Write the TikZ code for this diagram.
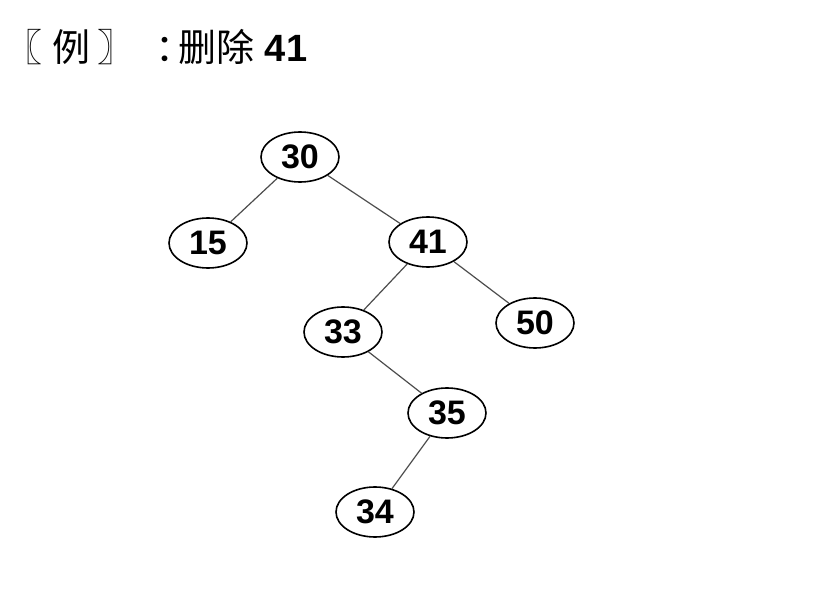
\documentclass[tikz,border=0pt]{standalone}
\usepackage{fontspec}
\setmainfont{Liberation Sans}
\newfontfamily\cjk{Noto Sans CJK SC}
\usetikzlibrary{shapes.geometric}

\begin{document}
\begin{tikzpicture}[
  x=0.5pt, y=-0.5pt,
  key/.style={ellipse, draw, thick, minimum width=39pt, minimum height=25pt, inner sep=0pt, font=\fontsize{17}{19}\selectfont\bfseries},
  edge/.style={draw=black!70, line width=0.6pt},
  every node/.style={inner sep=2pt}
]
\useasboundingbox (0,0) rectangle (832,589);

% Title
\node[anchor=west, inner sep=0pt, font=\fontsize{19}{22}\selectfont] (title) at (4,47) {{\cjk 〖\hspace{5pt}例\hspace{3.5pt}〗\hspace{10pt}：\hspace{-7.5pt}删除} \textbf{41}};

% Tree
\node[key] (k30) at (300,157) {30};
\node[key] (k15) at (208,243) {15};
\node[key] (k41) at (428,242) {41};
\node[key] (k33) at (343,332) {33};
\node[key] (k50) at (535,323) {50};
\node[key] (k35) at (447,413) {35};
\node[key] (k34) at (375,512) {34};

% Links
\draw[edge] (k30) -- (k15);
\draw[edge] (k30) -- (k41);
\draw[edge] (k41) -- (k33);
\draw[edge] (k41) -- (k50);
\draw[edge] (k33) -- (k35);
\draw[edge] (k35) -- (k34);

\end{tikzpicture}
\end{document}
